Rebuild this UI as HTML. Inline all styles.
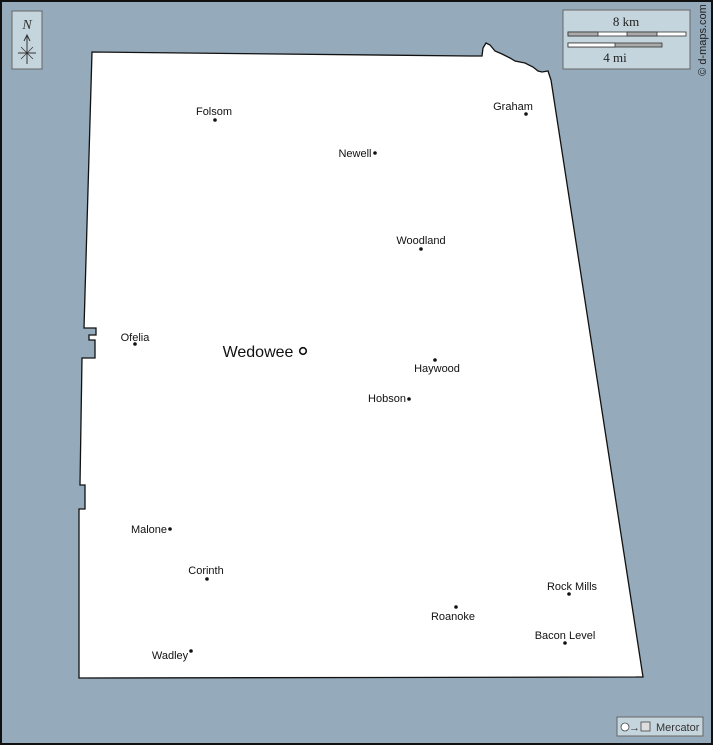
<!DOCTYPE html>
<html><head><meta charset="utf-8"><style>
html,body{margin:0;padding:0;}
body{width:713px;height:745px;overflow:hidden;}
text{font-family:"Liberation Sans",sans-serif;font-size:11px;fill:#111;}
</style></head><body>
<svg width="713" height="745" viewBox="0 0 713 745" xmlns="http://www.w3.org/2000/svg">
<rect x="0" y="0" width="713" height="745" fill="#95abbb"/>
<rect x="1" y="1" width="711" height="743" fill="none" stroke="#111" stroke-width="2"/>
<path d="M92,52 L470,56 L482,56 L483,48 L486,43 L490,45 L495,51 L502,54 L510,58 L515,61 L525,63 L533,67 L538,71 L542,72 L548,71 L551,80 L643,677 L79,678 L79,509 L85,509 L85,485 L80,485 L82,358 L95,358 L95,340 L89,340 L89,335 L96,335 L96,328 L84,328 Z" fill="#fff" stroke="#111" stroke-width="1.3"/>
<!-- compass -->
<rect x="12" y="11" width="30" height="58" fill="#c5d5dd" stroke="#666" stroke-width="1"/>
<text x="27" y="29" text-anchor="middle" style="font-family:'Liberation Serif',serif;font-style:italic;font-size:14px;fill:#333">N</text>
<line x1="27" y1="35" x2="27" y2="64" stroke="#333" stroke-width="1"/>
<path d="M24,41 L27,35 L30,41" fill="none" stroke="#333"/>
<line x1="18" y1="53" x2="36" y2="53" stroke="#333"/>
<line x1="21" y1="47" x2="33" y2="59" stroke="#333" stroke-width=".7"/>
<line x1="33" y1="47" x2="21" y2="59" stroke="#333" stroke-width=".7"/>
<!-- scale -->
<rect x="563" y="10" width="127" height="59" fill="#c5d5dd" stroke="#666" stroke-width="1"/>
<text x="626" y="26" text-anchor="middle" style="font-family:'Liberation Serif',serif;font-size:13px;fill:#222">8 km</text>
<rect x="568" y="32" width="118" height="4" fill="#fff" stroke="#333" stroke-width=".8"/>
<rect x="568" y="32" width="30" height="4" fill="#aaa" stroke="#333" stroke-width=".8"/>
<rect x="627" y="32" width="30" height="4" fill="#aaa" stroke="#333" stroke-width=".8"/>
<rect x="568" y="43" width="94" height="4" fill="#aaa" stroke="#333" stroke-width=".8"/>
<rect x="568" y="43" width="47" height="4" fill="#fff" stroke="#333" stroke-width=".8"/>
<text x="615" y="62" text-anchor="middle" style="font-family:'Liberation Serif',serif;font-size:13px;fill:#222">4 mi</text>
<text transform="translate(706,40) rotate(-90)" text-anchor="middle" style="font-size:11px;fill:#222">© d-maps.com</text>
<!-- mercator -->
<rect x="617" y="717" width="86" height="19" fill="#c5d5dd" stroke="#666" stroke-width="1"/>
<circle cx="625" cy="727" r="4" fill="#fff" stroke="#444" stroke-width=".8"/>
<text x="629" y="731" style="font-size:11px;fill:#333">→</text>
<rect x="641" y="722" width="9" height="9" fill="#ddd" stroke="#444" stroke-width=".8"/>
<text x="656" y="731" style="font-size:11px;fill:#333">Mercator</text>
<!-- towns -->
<g fill="#111">
<circle cx="215" cy="120" r="1.8"/><circle cx="375" cy="153" r="1.8"/><circle cx="526" cy="114" r="1.8"/>
<circle cx="421" cy="249" r="1.8"/><circle cx="135" cy="344" r="1.8"/><circle cx="435" cy="360" r="1.8"/>
<circle cx="409" cy="399" r="1.8"/><circle cx="170" cy="529" r="1.8"/><circle cx="207" cy="579" r="1.8"/>
<circle cx="569" cy="594" r="1.8"/><circle cx="456" cy="607" r="1.8"/><circle cx="565" cy="643" r="1.8"/>
<circle cx="191" cy="651" r="1.8"/>
</g>
<circle cx="303" cy="351" r="3.3" fill="#fff" stroke="#111" stroke-width="1.6"/>
<text x="214" y="115" text-anchor="middle">Folsom</text>
<text x="355" y="157" text-anchor="middle">Newell</text>
<text x="513" y="110" text-anchor="middle">Graham</text>
<text x="421" y="244" text-anchor="middle">Woodland</text>
<text x="135" y="341" text-anchor="middle">Ofelia</text>
<text x="258" y="357" text-anchor="middle" style="font-size:16px">Wedowee</text>
<text x="437" y="372" text-anchor="middle">Haywood</text>
<text x="387" y="402" text-anchor="middle">Hobson</text>
<text x="149" y="533" text-anchor="middle">Malone</text>
<text x="206" y="574" text-anchor="middle">Corinth</text>
<text x="572" y="590" text-anchor="middle">Rock Mills</text>
<text x="453" y="620" text-anchor="middle">Roanoke</text>
<text x="565" y="639" text-anchor="middle">Bacon Level</text>
<text x="170" y="659" text-anchor="middle">Wadley</text>
</svg>
</body></html>
